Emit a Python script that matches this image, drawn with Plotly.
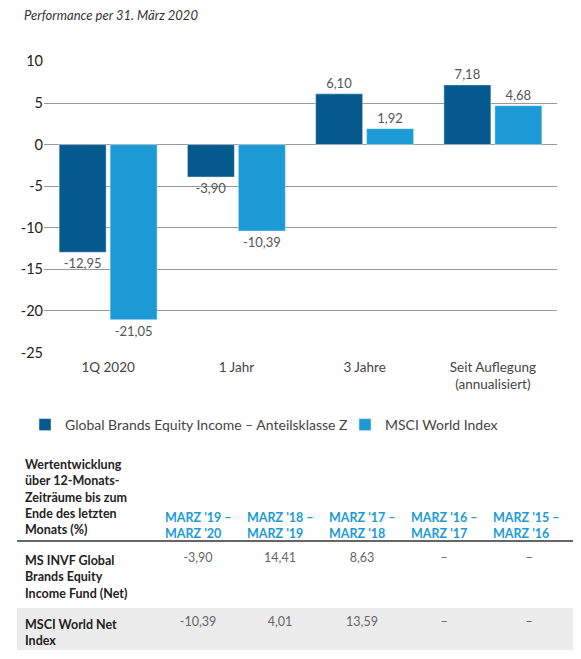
import plotly.graph_objects as go

# chart data
categories = ["1Q 2020", "1 Jahr", "3 Jahre", "Seit Auflegung<br>(annualisiert)"]
fund_perf = [-12.95, -3.90, 6.10, 7.18]
index_perf = [-21.05, -10.39, 1.92, 4.68]
fund_name = "Global Brands Equity Income – Anteilsklasse Z"
index_name = "MSCI World Index"
y_ticks = [10, 5, 0, -5, -10, -15, -20, -25]

# table data
table_title = "Wertentwicklung<br>über 12-Monats-<br>Zeiträume bis zum<br>Ende des letzten<br>Monats (%)"
periods = ["MARZ '19 –<br>MARZ '20", "MARZ '18 –<br>MARZ '19", "MARZ '17 –<br>MARZ '18",
           "MARZ '16 –<br>MARZ '17", "MARZ '15 –<br>MARZ '16"]
row_labels = ["MS INVF Global<br>Brands Equity<br>Income Fund (Net)", "MSCI World Net<br>Index"]
fund_12m = [-3.90, 14.41, 8.63, None, None]
index_12m = [-10.39, 4.01, 13.59, None, None]

DARK = "#045a8d"
LIGHT = "#1c9ad6"
FONT = "Lato"
# page has an 8px body margin, so the figure is 16px smaller than the window
W, H = 565, 643


def px_x(x):
    return (x - 8) / W


def px_y(y):
    return 1 - (y - 8) / H


def de(v):
    # german decimal comma
    if v is None:
        return "–"
    return f"{v:.2f}".replace(".", ",")


fig = go.Figure()
fig.add_trace(go.Bar(x=categories, y=fund_perf, name=fund_name, marker_color=DARK,
                     text=[de(v) for v in fund_perf], textposition="outside",
                     textfont=dict(size=13, color="#555"), cliponaxis=False,
                     legend="legend", showlegend=True))
fig.add_trace(go.Bar(x=categories, y=index_perf, name=index_name, marker_color=LIGHT,
                     text=[de(v) for v in index_perf], textposition="outside",
                     textfont=dict(size=13, color="#555"), cliponaxis=False,
                     legend="legend2", showlegend=True))

# performance table below the chart
n = len(periods)
fills = [["white", "#ececec"]] * (n + 1)
cols = [[f"<b>{r}</b>" for r in row_labels],
        *[[de(fund_12m[i]), de(index_12m[i])] for i in range(n)]]
fig.add_trace(go.Table(
    domain=dict(x=[px_x(17), 1], y=[0, px_y(449)]),
    columnwidth=[140, 82, 82, 82, 82, 88],
    header=dict(values=[f"<b>{table_title}</b>"] + [f"<br><br><br><br><b>{p}</b>" for p in periods],
                align="left", height=92, fill_color="white", line_color="white",
                font=dict(family=FONT, size=12.5, color=["#222"] + [LIGHT] * n)),
    cells=dict(values=cols, align=["left"] + ["center"] * n, height=20,
               fill_color=fills, line_color=fills,
               font=dict(family=FONT, size=12.5, color=["#222"] + ["#666"] * n)),
))

fig.add_shape(type="line", xref="paper", yref="paper", x0=px_x(17), x1=1,
              y0=px_y(541), y1=px_y(541), line=dict(color="#333", width=1.5))

legend_style = dict(orientation="h", xanchor="left", yanchor="middle",
                    font=dict(size=14, color="#444"), bgcolor="rgba(0,0,0,0)")

fig.update_layout(
    width=W, height=H,
    margin=dict(l=0, r=0, t=0, b=0, autoexpand=False),
    paper_bgcolor="white", plot_bgcolor="white",
    font=dict(family=FONT, size=14, color="#444"),
    barmode="group", bargap=0.205, bargroupgap=0.078,
    showlegend=True,
    title=dict(text="Performance per 31. März 2020", x=px_x(24), y=px_y(15),
               xanchor="left", yanchor="middle", xref="paper",
               font=dict(family=FONT, size=13, color="#333", style="italic")),
    legend=dict(x=px_x(25), y=px_y(425), **legend_style),
    legend2=dict(x=px_x(345), y=px_y(425), **legend_style),
    xaxis=dict(domain=[px_x(44), px_x(557)], showline=False, ticks="", automargin=False,
               ticklabelstandoff=4, tickfont=dict(size=13.5, color="#444")),
    yaxis=dict(domain=[px_y(353), px_y(61)], range=[-25.05, 10.05], automargin=False,
               tickvals=y_ticks, ticktext=[str(t) for t in y_ticks],
               showgrid=True, gridcolor="#9a9a9a", gridwidth=1,
               zeroline=True, zerolinecolor="#9a9a9a", zerolinewidth=1,
               showline=False, ticks="", tickfont=dict(size=14.5, color="#222")),
)

fig.write_html("out.html")
